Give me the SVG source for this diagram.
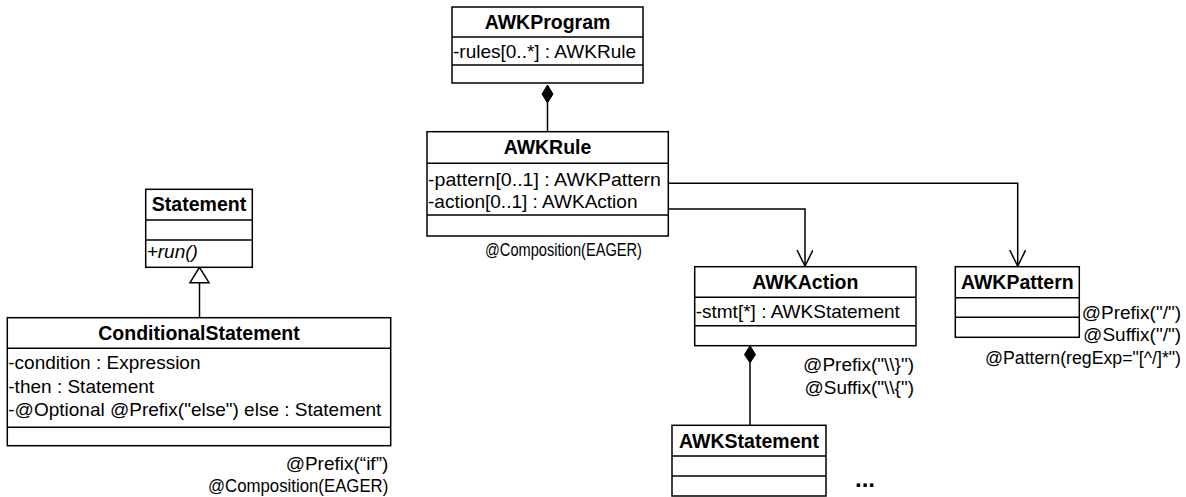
<svg xmlns="http://www.w3.org/2000/svg" width="1186" height="497" viewBox="0 0 1186 497">
<style>
.box{fill:#fff;stroke:#000;stroke-width:1.5}
.div{stroke:#000;stroke-width:1.5}
.t{font-family:"Liberation Sans",Arial,sans-serif;font-size:19px;fill:#000}
.b{font-weight:bold;text-anchor:middle;font-size:19.5px}
.r{text-anchor:end}
.i{font-style:italic}
.c{fill:none;stroke:#000;stroke-width:1.5}
</style>
<defs>
<marker id="open" markerWidth="18" markerHeight="18" refX="16" refY="8" orient="auto" markerUnits="userSpaceOnUse">
<path d="M0,0 L16,8 L0,16" fill="none" stroke="#000" stroke-width="1.5"/>
</marker>
</defs>
<rect width="1186" height="497" fill="#fff"/>
<g id="connectors">
<path class="c" d="M547.5,103 V131.7"/>
<path d="M547.5,85 L553,94 L547.5,103 L542,94 Z" fill="#000" stroke="#000"/>
<path class="c" d="M668.3,183.3 H1017.7 V266" marker-end="url(#open)"/>
<path class="c" d="M668.3,209 H805 V266" marker-end="url(#open)"/>
<path class="c" d="M750,363 V425.3"/>
<path d="M750,345.7 L755.5,354.5 L750,363 L744.5,354.5 Z" fill="#000" stroke="#000"/>
<path class="c" d="M199.5,282.7 V317.7"/>
<path d="M199.5,267.3 L209,282.7 L190,282.7 Z" fill="#fff" stroke="#000" stroke-width="1.5"/>
</g>
<g id="AWKProgram">
<rect class="box" x="452" y="7" width="191" height="76"/>
<line class="div" x1="452" y1="37" x2="643" y2="37"/>
<line class="div" x1="452" y1="65" x2="643" y2="65"/>
<text class="t b" x="547.5" y="29">AWKProgram</text>
<text class="t" x="453" y="58">-rules[0..*] : AWKRule</text>
</g>
<g id="AWKRule">
<rect class="box" x="427" y="131.7" width="241.3" height="104.3"/>
<line class="div" x1="427" y1="163.3" x2="668.3" y2="163.3"/>
<line class="div" x1="427" y1="215" x2="668.3" y2="215"/>
<text class="t b" x="547.5" y="154">AWKRule</text>
<text class="t" x="428" y="186" textLength="233" lengthAdjust="spacingAndGlyphs">-pattern[0..1] : AWKPattern</text>
<text class="t" x="428" y="208">-action[0..1] : AWKAction</text>
<text class="t" x="485" y="256" textLength="157" lengthAdjust="spacingAndGlyphs">@Composition(EAGER)</text>
</g>
<g id="AWKAction">
<rect class="box" x="694.7" y="266.7" width="221.3" height="79"/>
<line class="div" x1="694.7" y1="297.3" x2="916" y2="297.3"/>
<line class="div" x1="694.7" y1="325.7" x2="916" y2="325.7"/>
<text class="t b" x="805.3" y="289">AWKAction</text>
<text class="t" x="695.7" y="318">-stmt[*] : AWKStatement</text>
<text class="t r" x="914" y="371">@Prefix("\\}")</text>
<text class="t r" x="914" y="393.5">@Suffix("\\{")</text>
</g>
<g id="AWKPattern">
<rect class="box" x="955.3" y="266.7" width="124" height="70.6"/>
<line class="div" x1="955.3" y1="297.7" x2="1079.3" y2="297.7"/>
<line class="div" x1="955.3" y1="317.3" x2="1079.3" y2="317.3"/>
<text class="t b" x="1017.3" y="289">AWKPattern</text>
<text class="t r" x="1181" y="319">@Prefix("/")</text>
<text class="t r" x="1181" y="341">@Suffix("/")</text>
<text class="t r" x="1181" y="364" style="font-size:18px" textLength="196" lengthAdjust="spacingAndGlyphs">@Pattern(regExp="[^/]*")</text>
</g>
<g id="AWKStatement">
<rect class="box" x="672" y="425.3" width="154" height="70.7"/>
<line class="div" x1="672" y1="456" x2="826" y2="456"/>
<line class="div" x1="672" y1="476" x2="826" y2="476"/>
<text class="t b" x="749" y="448">AWKStatement</text>
<text class="t" x="855" y="487" style="font-size:24px;font-weight:bold">...</text>
</g>
<g id="Statement">
<rect class="box" x="145.7" y="189.3" width="106.6" height="78"/>
<line class="div" x1="145.7" y1="220" x2="252.3" y2="220"/>
<line class="div" x1="145.7" y1="240" x2="252.3" y2="240"/>
<text class="t b" x="199" y="211">Statement</text>
<text class="t i" x="146.7" y="258">+run()</text>
</g>
<g id="ConditionalStatement">
<rect class="box" x="7.3" y="317.7" width="383.4" height="128"/>
<line class="div" x1="7.3" y1="348.3" x2="390.7" y2="348.3"/>
<line class="div" x1="7.3" y1="427.3" x2="390.7" y2="427.3"/>
<text class="t b" x="199" y="340">ConditionalStatement</text>
<text class="t" x="8.3" y="369">-condition : Expression</text>
<text class="t" x="8.3" y="392.5">-then : Statement</text>
<text class="t" x="8.3" y="416">-@Optional @Prefix("else") else : Statement</text>
<text class="t r" x="388.3" y="470">@Prefix(“if”)</text>
<text class="t" x="208" y="492" textLength="180.3" lengthAdjust="spacingAndGlyphs">@Composition(EAGER)</text>
</g>
</svg>
